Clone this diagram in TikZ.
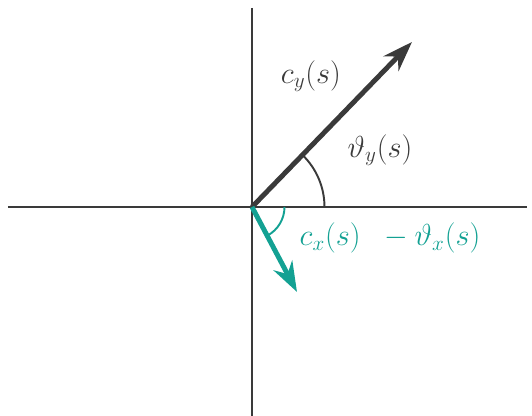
\documentclass[tikz,border=0pt]{standalone}
\usepackage{xcolor}
\usepackage{tikz}
\usetikzlibrary{arrows.meta, positioning, calc}
\usepackage{amsmath}
\definecolor{penteal}{HTML}{13A193}
\definecolor{pengray}{HTML}{3A3A3A}

\begin{document}
\begin{tikzpicture}[
    axis/.style={draw=pengray, line width=1.3pt},
    vec/.style={-{Stealth[length=6mm, width=4.2mm]}, line width=2.8pt},
    angarc/.style={line width=1.1pt},
    lbl/.style={font=\LARGE}
]
    \useasboundingbox (-5.04,-4.18) rectangle (5.60,4.14);
    \coordinate (O) at (0,0);
    \coordinate (left) at (-4.88,0);
    \coordinate (right) at (5.50,0);
    \coordinate (top) at (0,3.98);
    \coordinate (bottom) at (0,-4.18);
    \coordinate (ytip) at (3.20,3.30);
    \coordinate (xtip) at (0.90,-1.70);

    \draw[axis] (left) -- (right);
    \draw[axis] (top) -- (bottom);

    \draw[vec, pengray] (O) -- (ytip);
    \draw[vec, penteal] (O) -- (xtip);

    \draw[angarc, pengray] (1.45,0) arc[start angle=0, end angle=46, radius=1.45];
    \draw[angarc, penteal] (0.65,0) arc[start angle=0, end angle=-62, radius=0.65];

    \node[lbl, pengray] (cy) at (1.18,2.62) {$c_y(s)$};
    \node[lbl, pengray] (thy) at (2.56,1.14) {$\vartheta_y(s)$};
    \node[lbl, penteal] (cx) at (2.76,-0.62) {$c_x(s)\;\; - \vartheta_x(s)$};
\end{tikzpicture}
\end{document}
